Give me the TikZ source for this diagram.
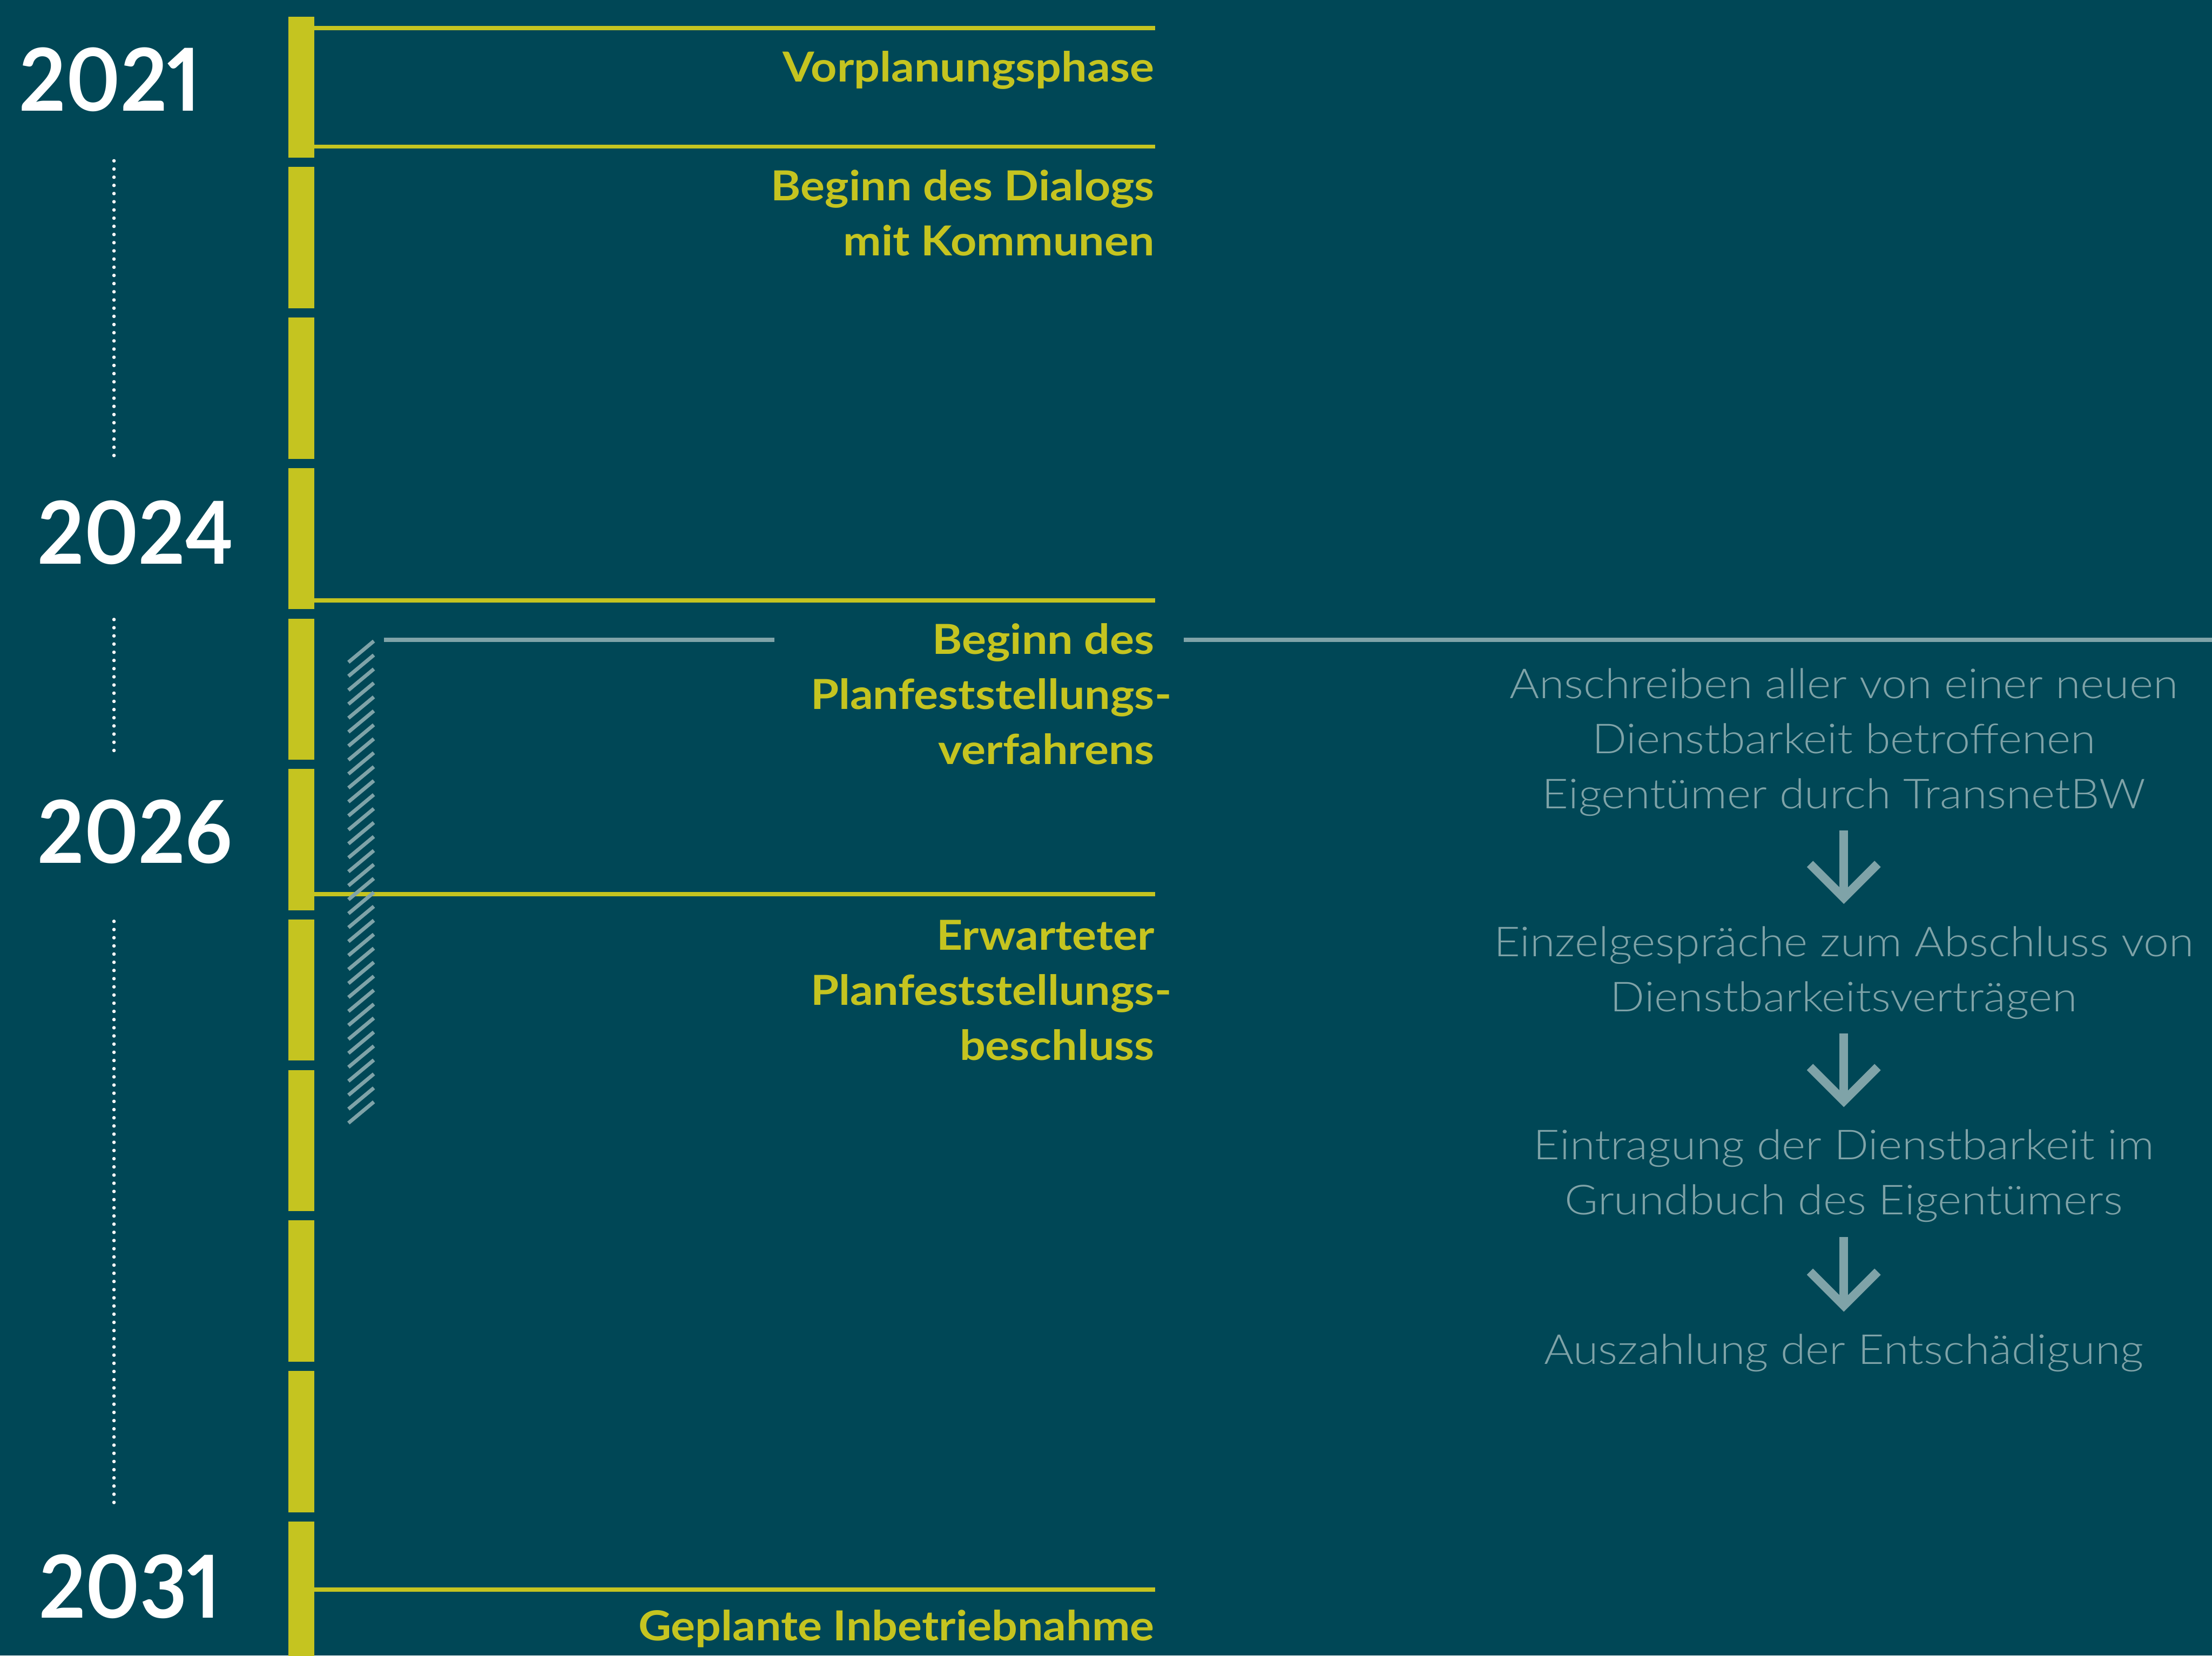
\documentclass[tikz,border=0pt]{standalone}
\usepackage{fontspec}
\setmainfont{Lato}
\newfontfamily\lightfont{Lato Light}[FakeStretch=1.1]
\newfontfamily\phasefont{Lato}[FakeStretch=1.1]
\newfontfamily\yearfont{Lato}[Numbers=Proportional,FakeStretch=0.94]
\usetikzlibrary{calc}
\definecolor{bgteal}{RGB}{0,71,86}
\definecolor{lineyellow}{RGB}{197,196,32}
\definecolor{flowgray}{RGB}{127,163,168}
\tikzset{
  year/.style={anchor=base west,inner sep=0pt,text=white,font=\fontsize{17.5}{20}\selectfont\yearfont\bfseries},
  phase/.style={anchor=north east,inner sep=0pt,align=right,text=lineyellow,font=\fontsize{8.34}{11.1}\selectfont\phasefont\bfseries},
  flowtext/.style={anchor=north,inner sep=0pt,align=center,text=flowgray,font=\fontsize{8.34}{11.1}\selectfont\lightfont},
  yline/.style={lineyellow,line width=0.82pt},
  grayline/.style={flowgray,line width=0.82pt},
  hatchline/.style={flowgray,line width=0.74pt},
  dotline/.style={white,line width=0.71pt,line cap=round,dash pattern=on 0pt off 1.65pt},
  flowline/.style={flowgray,line width=1.76pt,line join=miter}
}
\begin{document}
\begin{tikzpicture}[x=0.01cm,y=-0.01cm]
    \useasboundingbox (0,0) rectangle (1568,1173.86);
    \fill[bgteal] (0,0) rectangle (1568,1173.86);
    \foreach \k in {0,...,10}
        \fill[lineyellow] (204.3,{11.7+106.7*\k}) rectangle ++(18.4,100.1);
    \foreach \y in {19.8,103.9,425.6,634,1127}
        \draw[yline] (222.7,\y) -- (819,\y);
    \draw[grayline] (272,453.7) -- (549,453.7);
    \draw[grayline] (839,453.7) -- (1568,453.7);
    \foreach \i in {0,...,33}
        \draw[hatchline] (247,{469.5+9.9*\i}) -- (265,{454.5+9.9*\i});

    \node[year] at (13,78.8) (y2021) {2021};
    \node[year] at (26,400) (y2024) {2024};
    \node[year] at (26,612) (y2026) {2026};
    \node[year] at (27,1147) (y2031) {2031};
    \coordinate (dotx) at (80.8,0);
    \draw[dotline,shorten <=0.34cm,shorten >=0.30cm] (y2021.south -| dotx) -- (y2024.north -| dotx);
    \draw[dotline,shorten <=0.38cm,shorten >=0.30cm] (y2024.south -| dotx) -- (y2026.north -| dotx);
    \draw[dotline,shorten <=0.40cm,shorten >=0.31cm] (y2026.south -| dotx) -- (y2031.north -| dotx);

    \node[phase] at (819,35.6) (vorpl) {Vorplanungsphase};
    \node[phase] at (819,119.6) (dialog) {Beginn des Dialogs\\mit Kommunen};
    \node[phase] at (819,441.3) (pfv) {Beginn des\\Planfeststellungs\rlap{-}\\verfahrens};
    \node[phase] at (819,651.5) (pfb) {Erwarteter\\Planfeststellungs\rlap{-}\\beschluss};
    \node[phase] at (819,1140.6) (ibn) {Geplante Inbetriebnahme};

    \node[flowtext] at (1307,473.1) (g1) {Anschreiben aller von einer neuen\\Dienstbarkeit betroffenen\\Eigentümer durch TransnetBW};
    \node[flowtext] at (1307,656.1) (g2) {Einzelgespräche zum Abschluss von\\Dienstbarkeitsverträgen};
    \node[flowtext] at (1307,800.1) (g3) {Eintragung der Dienstbarkeit im\\Grundbuch des Eigentümers};
    \node[flowtext] at (1307,945.2) (g4) {Auszahlung der Entschädigung};
    \foreach \a/\b in {g1/g2,g2/g3,g3/g4}{
        \draw[flowline] ([yshift=-0.095cm]\a.south) -- ([yshift=0.196cm]\b.north) coordinate (tip);
        \draw[flowline] ($(tip)+(-24,-24)$) -- (tip) -- ($(tip)+(24,-24)$);
    }
\end{tikzpicture}
\end{document}
